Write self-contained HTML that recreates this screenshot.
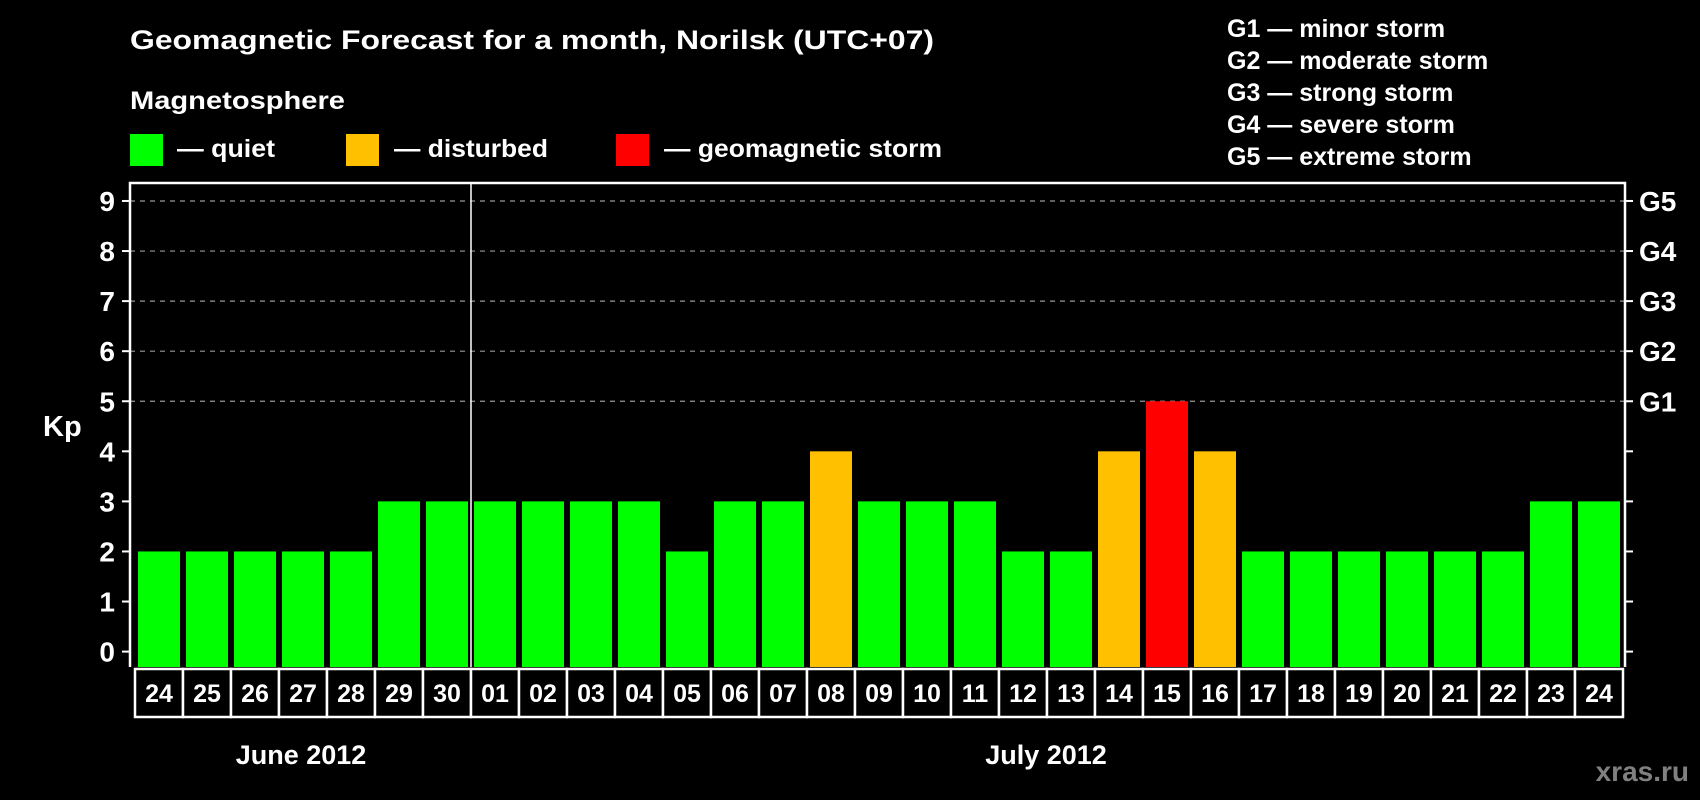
<!DOCTYPE html>
<html><head><meta charset="utf-8"><style>
html,body{margin:0;padding:0;background:#000;}
svg{display:block;font-family:"Liberation Sans",Arial,sans-serif;font-weight:bold;}
</style></head><body>
<svg id="chart" width="1700" height="800" viewBox="0 0 1700 800" xmlns="http://www.w3.org/2000/svg">
<rect width="1700" height="800" fill="#000"/>
<text x="130" y="49" font-size="27" fill="#fff" textLength="804" lengthAdjust="spacingAndGlyphs">Geomagnetic Forecast for a month, Norilsk (UTC+07)</text>
<text x="130" y="109" font-size="25" fill="#fff" textLength="215" lengthAdjust="spacingAndGlyphs">Magnetosphere</text>
<g><rect x="130" y="134" width="33" height="32" fill="#00ff00"/><text x="177" y="157" font-size="25" fill="#fff" textLength="98" lengthAdjust="spacingAndGlyphs">— quiet</text></g>
<g><rect x="346" y="134" width="33" height="32" fill="#ffc000"/><text x="394" y="157" font-size="25" fill="#fff" textLength="154" lengthAdjust="spacingAndGlyphs">— disturbed</text></g>
<g><rect x="616" y="134" width="33" height="32" fill="#ff0000"/><text x="664" y="157" font-size="25" fill="#fff" textLength="278" lengthAdjust="spacingAndGlyphs">— geomagnetic storm</text></g>
<g font-size="25" fill="#fff">
<text x="1227" y="37">G1 — minor storm</text>
<text x="1227" y="69">G2 — moderate storm</text>
<text x="1227" y="101">G3 — strong storm</text>
<text x="1227" y="133">G4 — severe storm</text>
<text x="1227" y="165">G5 — extreme storm</text>
</g>
<text x="43" y="436" font-size="29" fill="#fff">Kp</text>
<text x="301" y="764" font-size="27" fill="#fff" text-anchor="middle">June 2012</text>
<text x="1046" y="764" font-size="27" fill="#fff" text-anchor="middle">July 2012</text>
<text x="1689" y="781" font-size="28" fill="#808080" text-anchor="end">xras.ru</text>
<g id="grid"></g><g id="bars"></g><g id="axes"></g><g id="dates"></g>
</svg>
<script>
const days=["24","25","26","27","28","29","30","01","02","03","04","05","06","07","08","09","10","11","12","13","14","15","16","17","18","19","20","21","22","23","24"];
const kp=[2,2,2,2,2,3,3,3,3,3,3,2,3,3,4,3,3,3,2,2,4,5,4,2,2,2,2,2,2,3,3];
const yTicks=[0,1,2,3,4,5,6,7,8,9];
const gLabels=["G1","G2","G3","G4","G5"];
const gLevels=[5,6,7,8,9];
const monthSplit=7;
const NS="http://www.w3.org/2000/svg";
const L=130,R=1625,T=183,B=667;
function y(v){return 651.6-50.07*v;}
function xs(i){return 135+48*i;}
function mk(t,a,p){const e=document.createElementNS(NS,t);for(const k in a)e.setAttribute(k,a[k]);p.appendChild(e);return e;}
function color(v){return v>=5?"#ff0000":(v>=4?"#ffc000":"#00ff00");}
const grid=document.getElementById('grid'),bars=document.getElementById('bars'),axes=document.getElementById('axes'),dates=document.getElementById('dates');
yTicks.forEach(v=>{
 if(v>=5){const g=mk('line',{x1:L,x2:R,y1:y(v),y2:y(v),stroke:"#999","stroke-width":1.2,"stroke-dasharray":"5,5"},grid);
 
 }
 const t=mk('line',{x1:L-8,x2:L,y1:y(v),y2:y(v),stroke:"#fff","stroke-width":2},axes);
 
 
 const t2=mk('line',{x1:R,x2:R+8,y1:y(v),y2:y(v),stroke:"#fff","stroke-width":2},axes);
 
 
 const lb=mk('text',{x:115,y:y(v)+10,"font-size":28,fill:"#fff","text-anchor":"end"},axes);lb.textContent=v;
 
 
});
gLabels.forEach((g,i)=>{
 const t=mk('text',{x:1639,y:y(gLevels[i])+10,"font-size":28,fill:"#fff"},axes);t.textContent=g;
 
 
});
kp.forEach((v,i)=>{
 const b=mk('rect',{x:xs(i)+3,y:y(v),width:42,height:B-y(v),fill:color(v)},bars);
 
 
});
mk('path',{d:`M${L} ${B}V${T}H${R}V${B}`,fill:"none",stroke:"#fff","stroke-width":2.5},axes);
const sep=mk('line',{x1:xs(monthSplit),x2:xs(monthSplit),y1:T,y2:B,stroke:"#fff","stroke-width":1.5},axes);


days.forEach((d,i)=>{
 const r=mk('rect',{x:xs(i),y:669,width:48,height:48,fill:"#000",stroke:"#fff","stroke-width":2.5},dates);
 
 
 const t=mk('text',{x:xs(i)+24,y:702,"font-size":25,fill:"#fff","text-anchor":"middle"},dates);t.textContent=d;
 
 
});
</script>
</body></html>
